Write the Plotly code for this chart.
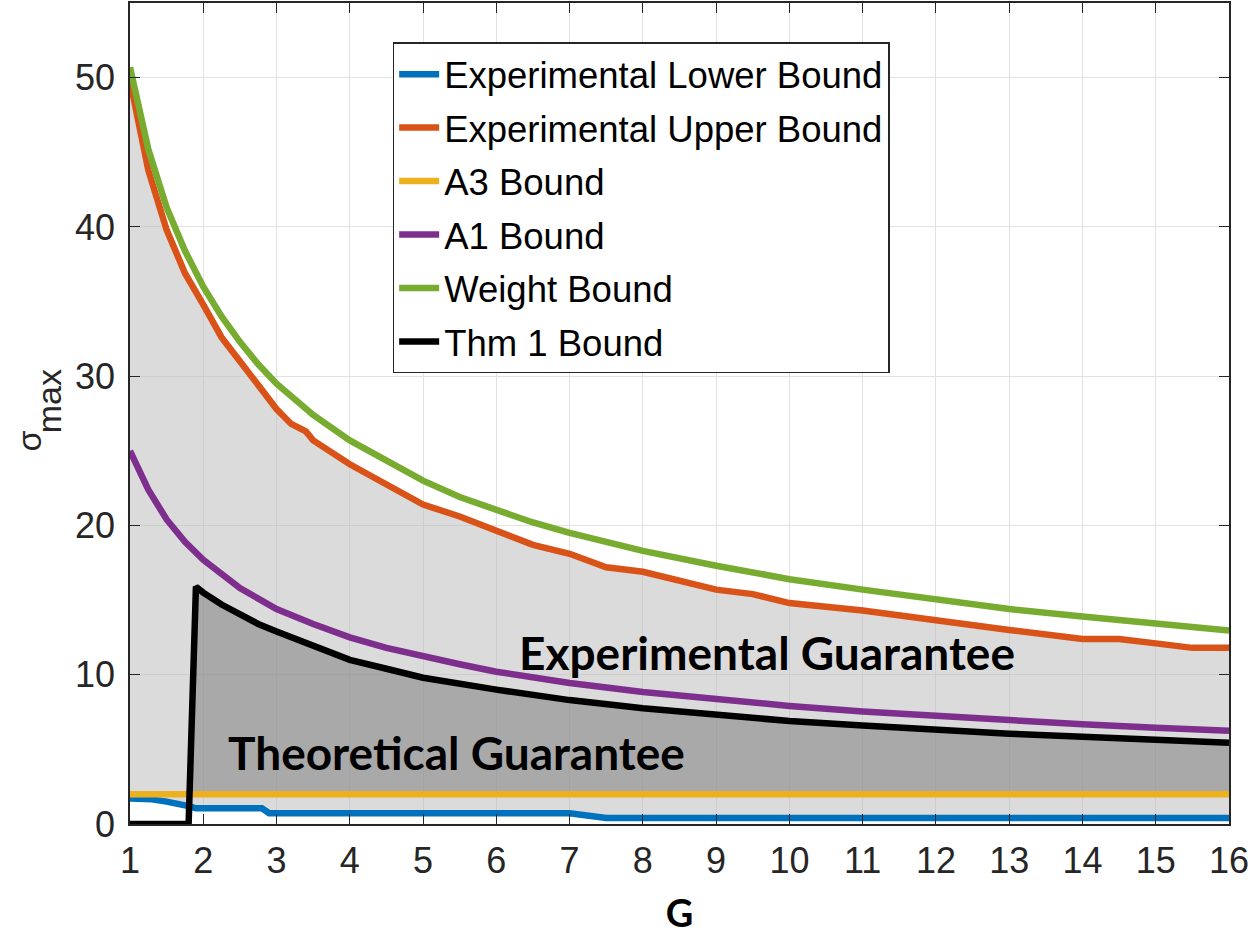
import plotly.graph_objects as go

# values
lower_g = [1, 1.3, 1.5, 1.6, 1.7, 1.8, 1.9, 2.8, 2.9, 7.0, 7.5, 16]
lower_val = [1.7, 1.65, 1.5, 1.45, 1.3, 1.2, 1.05, 1.05, 0.72, 0.72, 0.4, 0.4]

upper_g = [1, 1.25, 1.5, 1.75, 2, 2.25, 2.5, 2.75, 2.9, 3.0, 3.1, 3.2, 3.4, 3.5, 4, 4.5, 5,
           5.5, 6, 6.5, 7, 7.5, 8, 8.5, 9, 9.5, 10, 11, 12, 13, 14, 14.5, 15, 15.5, 16]
upper_val = [49.8, 43.8, 39.8, 36.9, 34.8, 32.6, 31.0, 29.4, 28.4, 27.8, 27.3, 26.8, 26.3, 25.7, 24.1, 22.7, 21.4,
             20.6, 19.6, 18.7, 18.1, 17.2, 16.9, 16.3, 15.7, 15.4, 14.8, 14.3, 13.6, 13.0, 12.4, 12.4, 12.1, 11.8, 11.8]

a3_g = [1, 16]
a3_val = [2, 2]

a1_g = [1, 1.25, 1.5, 1.75, 2, 2.25, 2.5, 2.75, 3, 3.5, 4, 4.5, 5, 5.5, 6, 7, 8, 9, 10, 11, 12, 13, 14, 15, 16]
a1_val = [25.0, 22.4, 20.4, 18.9, 17.7, 16.7, 15.8, 15.1, 14.4, 13.4, 12.5, 11.8, 11.2, 10.7, 10.2,
          9.45, 8.84, 8.33, 7.91, 7.54, 7.22, 6.93, 6.68, 6.45, 6.25]

weight_g = [1, 1.25, 1.5, 1.75, 2, 2.25, 2.5, 2.75, 3, 3.5, 4, 4.5, 5, 5.5, 6, 6.5, 7, 7.5, 8,
            9, 10, 11, 12, 13, 14, 15, 16]
weight_val = [50.7, 45.2, 41.3, 38.4, 36.0, 34.0, 32.3, 30.8, 29.5, 27.4, 25.7, 24.3, 23.0, 21.9, 21.0, 20.2,
              19.5, 18.9, 18.3, 17.3, 16.4, 15.7, 15.0, 14.4, 13.9, 13.4, 12.96]

thm_g = [1, 1.8, 1.9, 2, 2.25, 2.5, 2.75, 3, 3.5, 4, 4.5, 5, 6, 7, 8, 9, 10, 11, 12, 13, 14, 15, 16]
thm_val = [0, 0, 15.9, 15.5, 14.7, 14.0, 13.4, 12.9, 11.9, 11.0, 10.4, 9.8, 9.0, 8.3, 7.75, 7.3,
           6.9, 6.6, 6.3, 6.05, 5.85, 5.65, 5.45]

x_ticks = list(range(1, 17))
y_ticks = [0, 10, 20, 30, 40, 50]

colors = ['#0072BD', '#D95319', '#EDB120', '#7E2F8E', '#77AC30', '#000000']
names = ['Experimental Lower Bound', 'Experimental Upper Bound', 'A3 Bound',
         'A1 Bound', 'Weight Bound', 'Thm 1 Bound']

fig = go.Figure()

# light gray band between the experimental bounds
fig.add_trace(go.Scatter(x=lower_g, y=lower_val, mode='lines', line=dict(width=0),
                         showlegend=False, hoverinfo='skip'))
fig.add_trace(go.Scatter(x=upper_g, y=upper_val, mode='lines', line=dict(width=0),
                         fill='tonexty', fillcolor='rgba(190,190,190,0.55)',
                         showlegend=False, hoverinfo='skip'))

# dark gray band between A3 bound and Thm 1 bound, where Thm 1 is above it
start = next(i for i, v in enumerate(thm_val) if v > a3_val[0])
x0 = thm_g[start - 1] + (thm_g[start] - thm_g[start - 1]) * (a3_val[0] - thm_val[start - 1]) / (
        thm_val[start] - thm_val[start - 1])
fig.add_trace(go.Scatter(x=[x0, a3_g[-1]], y=a3_val, mode='lines', line=dict(width=0),
                         showlegend=False, hoverinfo='skip'))
fig.add_trace(go.Scatter(x=[x0] + thm_g[start:], y=[a3_val[0]] + thm_val[start:], mode='lines',
                         line=dict(width=0), fill='tonexty', fillcolor='rgba(120,120,120,0.5)',
                         showlegend=False, hoverinfo='skip'))

series = [(lower_g, lower_val), (upper_g, upper_val), (a3_g, a3_val),
          (a1_g, a1_val), (weight_g, weight_val), (thm_g, thm_val)]
for (gx, gy), name, color in zip(series, names, colors):
    fig.add_trace(go.Scatter(x=gx, y=gy, mode='lines', name=name, legendgroup=name,
                             line=dict(color=color, width=6.5)))

fig.add_annotation(x=9.69, y=11.5, text='<b>Experimental Guarantee</b>', showarrow=False,
                   font=dict(family='Lato', size=46, color='black'))
fig.add_annotation(x=5.45, y=4.8, text='<b>Theoretical Guarantee</b>', showarrow=False,
                   font=dict(family='Lato', size=46, color='black'))

# y axis label: sigma with a "max" subscript, set as two rotated texts
label_font = dict(family='Liberation Sans, Arial', size=34, color='#262626')
fig.add_annotation(xref='paper', yref='paper', x=-0.0918, y=0.466, text='σ', textangle=-90,
                   showarrow=False, xanchor='center', yanchor='middle', font=label_font)
fig.add_annotation(xref='paper', yref='paper', x=-0.0736, y=0.515, text='max', textangle=-90,
                   showarrow=False, xanchor='center', yanchor='middle', font=label_font)

tick_font = dict(family='Liberation Sans, Arial', size=36, color='#262626')
axis_style = dict(showline=True, linecolor='#262626', linewidth=1.5, mirror='ticks', ticks='inside',
                  ticklen=10, tickcolor='#262626', showgrid=True, gridcolor='#e2e2e2', gridwidth=1,
                  zeroline=False, tickfont=tick_font, ticklabeloverflow='allow')

fig.update_layout(
    width=1250, height=937,
    margin=dict(l=130, r=20, t=1, b=113),
    plot_bgcolor='white', paper_bgcolor='white',
    xaxis=dict(range=[1, 16], tickvals=x_ticks, ticklabelstandoff=4,
               title=dict(text='<b>G</b>', standoff=20, font=dict(family='Lato', size=38, color='black')),
               **axis_style),
    yaxis=dict(range=[0, 55], tickvals=y_ticks, ticklabelstandoff=6, **axis_style),
    legend=dict(x=0.239, y=0.952, xanchor='left', yanchor='top', bgcolor='white',
                bordercolor='#262626', borderwidth=1.5, traceorder='grouped', tracegroupgap=3,
                itemwidth=40,
                font=dict(family='Liberation Sans, Arial', size=36.5, color='black')),
    showlegend=True,
)

fig.write_html("out.html", config={'displayModeBar': False},
               post_script="document.body.style.margin='0';")
